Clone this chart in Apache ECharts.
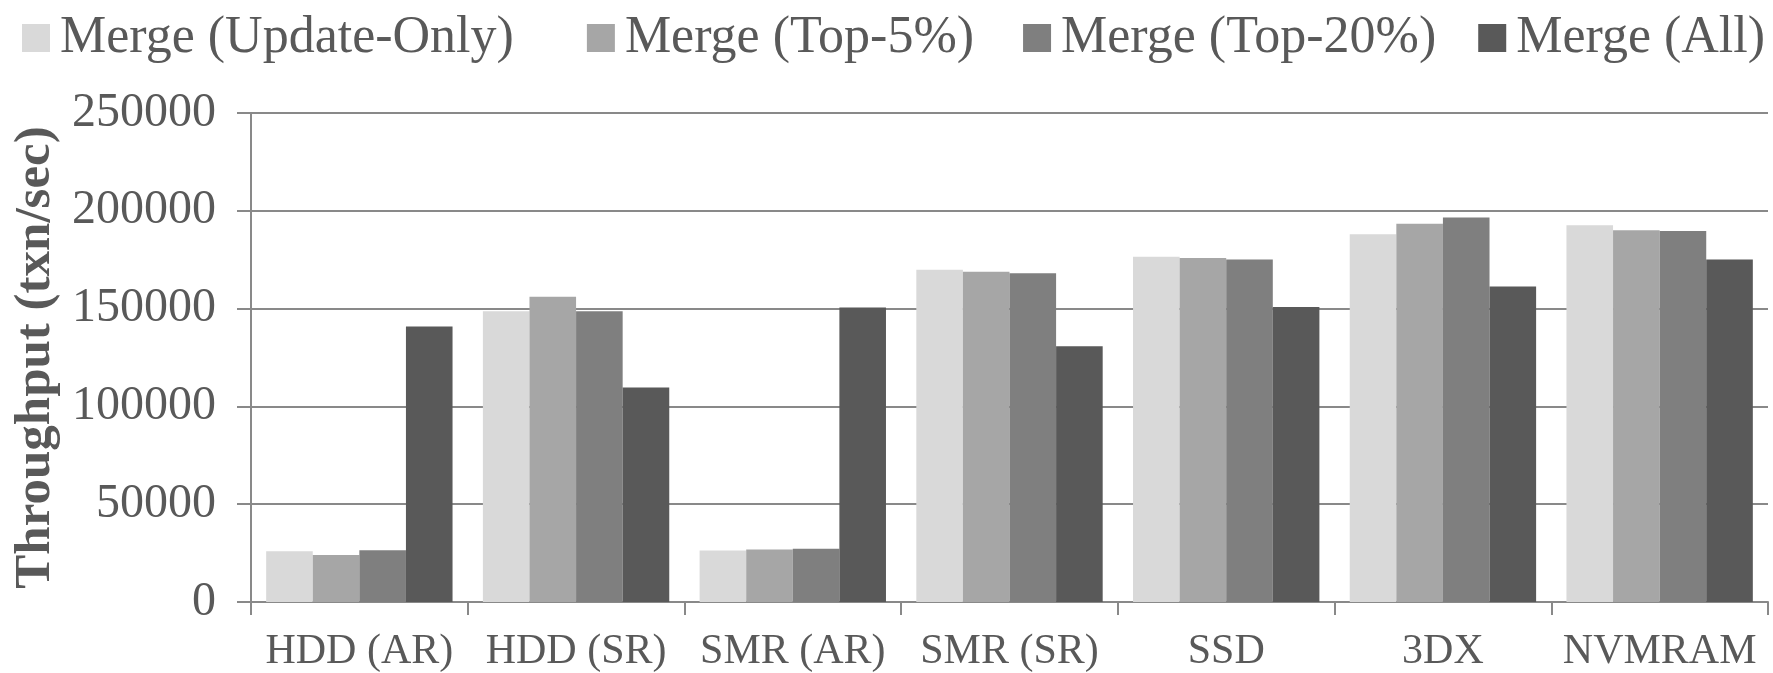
<!DOCTYPE html>
<html>
<head>
<meta charset="utf-8">
<title>Merge throughput by storage device</title>
<script src="https://cdn.jsdelivr.net/npm/echarts@6/dist/echarts.min.js"></script>
<style>
  html, body { margin: 0; padding: 0; background: #ffffff; }
  #chart { width: 1773px; height: 673px; }
</style>
</head>
<body>
<div id="chart"></div>
<script>
// Storage devices on the x axis
const categories = ['HDD (AR)', 'HDD (SR)', 'SMR (AR)', 'SMR (SR)', 'SSD', '3DX', 'NVMRAM'];

// Throughput (txn/sec) for each merge strategy
const seriesNames = ['Merge (Update-Only)', 'Merge (Top-5%)', 'Merge (Top-20%)', 'Merge (All)'];
const updateOnly = [26000, 148600, 26300, 169800, 176500, 188000, 192600];
const top5 = [24000, 156000, 26800, 168800, 175900, 193400, 190100];
const top20 = [26500, 148600, 27200, 168100, 175100, 196600, 189700];
const mergeAll = [140800, 109700, 150600, 130700, 150800, 161300, 175100];

// Y axis range
const yMin = 0;
const yMax = 250000;
const yStep = 50000;

const seriesValues = [updateOnly, top5, top20, mergeAll];
const colors = ['#d9d9d9', '#a6a6a6', '#7f7f7f', '#595959'];
const textColor = '#595959';
const lineColor = '#898989';
const fontFamily = '"Liberation Serif", "DejaVu Serif", serif';

// Extra space after each legend label, so the entries spread across the top
const legendTrailing = [31, 7, 0, 0];

const chart = echarts.init(document.getElementById('chart'), null, { renderer: 'canvas' });

chart.setOption({
  animation: false,
  backgroundColor: '#ffffff',
  color: colors,
  textStyle: { fontFamily: fontFamily, color: textColor },
  legend: {
    left: 17,
    top: 5,
    width: 1760,
    itemWidth: 28,
    itemHeight: 28,
    itemGap: 42,
    icon: 'rect',
    textStyle: {
      fontFamily: fontFamily,
      fontSize: 52,
      color: textColor,
      lineHeight: 56
    },
    data: seriesNames.map((name, i) => ({
      name: name,
      textStyle: {
        fontFamily: fontFamily,
        fontSize: 52,
        color: textColor,
        lineHeight: 56,
        padding: [0, legendTrailing[i], 0, 5]
      }
    }))
  },
  grid: {
    left: 251,
    right: 5,
    top: 113,
    bottom: 66,
    containLabel: false
  },
  xAxis: {
    type: 'category',
    data: categories,
    boundaryGap: true,
    axisLine: { show: true, lineStyle: { color: lineColor, width: 2 } },
    axisTick: { show: true, length: 13, lineStyle: { color: lineColor, width: 2 } },
    axisLabel: {
      fontFamily: fontFamily,
      fontSize: 42,
      color: textColor,
      margin: 29,
      interval: 0
    }
  },
  yAxis: {
    type: 'value',
    min: yMin,
    max: yMax,
    interval: yStep,
    name: 'Throughput (txn/sec)',
    nameLocation: 'middle',
    nameGap: 188,
    nameTextStyle: {
      fontFamily: fontFamily,
      fontSize: 51,
      fontWeight: 'bold',
      color: textColor
    },
    axisLine: { show: true, lineStyle: { color: lineColor, width: 2 } },
    axisTick: { show: true, inside: false, length: 14, lineStyle: { color: lineColor, width: 2 } },
    axisLabel: {
      fontFamily: fontFamily,
      fontSize: 48,
      color: textColor,
      margin: 35,
      formatter: (v) => String(v)
    },
    splitLine: { show: true, lineStyle: { color: lineColor, width: 2 } }
  },
  series: seriesNames.map((name, i) => ({
    name: name,
    type: 'bar',
    data: seriesValues[i],
    barGap: '0%',
    barCategoryGap: '14%',
    itemStyle: { color: colors[i] }
  }))
});
</script>
</body>
</html>
